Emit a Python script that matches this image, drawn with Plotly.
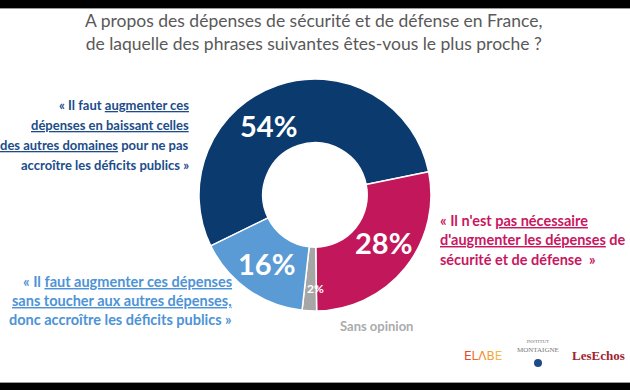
import math
import plotly.graph_objects as go

# ---- data ----
categories = [
    "Augmenter en baissant les autres dépenses",
    "Pas nécessaire d'augmenter",
    "Sans opinion",
    "Augmenter en creusant les déficits",
]
values = [54, 28, 2, 16]
value_labels = ["54%", "28%", "2%", "16%"]
colors = ["#0B3A6F", "#C2185B", "#A6A6A6", "#5B9BD5"]

title_lines = [
    "A propos des dépenses de sécurité et de défense en France,",
    "de laquelle des phrases suivantes êtes-vous le plus proche ?",
]
dark_lines = [
    "« Il faut <u>augmenter ces</u>",
    "<u>dépenses en baissant celles</u>",
    "<u>des autres domaines</u> pour ne pas",
    "accroître les déficits publics »",
]
red_lines = [
    "« Il n'est <u>pas nécessaire</u>",
    "<u>d'augmenter les dépenses</u> de",
    "sécurité et de défense  »",
]
light_lines = [
    "« Il <u>faut augmenter ces dépenses</u>",
    "<u>sans toucher aux autres dépenses,</u>",
    "donc accroître les déficits publics »",
]

W, H = 630, 390


def px(x):
    return x / W


def py(y):
    return 1 - y / H


cx, cy, r = 315, 195, 116
hole = 0.45
rotation = -116

fig = go.Figure()
fig.add_trace(go.Pie(
    labels=categories,
    values=values,
    textinfo="none",
    marker=dict(colors=colors, line=dict(color="white", width=1.5)),
    hole=hole,
    sort=False,
    direction="clockwise",
    rotation=rotation,
    showlegend=False,
    hoverinfo="label+percent",
    domain=dict(x=[px(cx - r), px(cx + r)], y=[py(cy + r), py(cy - r)]),
))

ann = []

# percentage labels placed at each slice's angle (computed from the data)
label_angle_shift = [-15, -4, -3, 0]      # styling: nudge along the ring
label_radius = [0.72, 0.72, 0.81, 0.72]   # fraction of outer radius
label_size = [29, 29, 12, 29]
total = sum(values)
start = rotation
for v, t, sh, rf, fs in zip(values, value_labels, label_angle_shift, label_radius, label_size):
    mid = start + 360 * v / total / 2 + sh
    start += 360 * v / total
    a = math.radians(mid)
    lx = cx + rf * r * math.sin(a)
    ly = cy - rf * r * math.cos(a)
    ann.append(dict(
        x=px(lx), y=py(ly), xref="paper", yref="paper", text=f"<b>{t}</b>",
        showarrow=False, xanchor="center", yanchor="middle",
        font=dict(family="Lato", size=fs, color="white"),
    ))

ann.append(dict(
    x=px(313), y=py(32), xref="paper", yref="paper",
    text="<br>".join(title_lines), showarrow=False,
    font=dict(family="Lato", size=17.5, color="#595959"), align="center",
    xanchor="center", yanchor="middle",
))


def add_block(lines, x, y0, step, anchor, color, size):
    for i, line in enumerate(lines):
        ann.append(dict(
            x=px(x), y=py(y0 + i * step), xref="paper", yref="paper",
            text=f"<b>{line}</b>", showarrow=False, xanchor=anchor,
            yanchor="middle", font=dict(family="Lato", size=size, color=color),
        ))


add_block(dark_lines, 191, 105, 20, "right", "#1C4C8A", 13)
add_block(red_lines, 438, 220, 19.5, "left", "#C8175F", 14.5)
add_block(light_lines, 234, 281, 19, "right", "#4D93D6", 14.5)

ann.append(dict(
    x=px(376), y=py(326), xref="paper", yref="paper", text="<b>Sans opinion</b>",
    showarrow=False, xanchor="center", yanchor="middle",
    font=dict(family="Lato", size=13, color="#ABABAB"),
))

# logos (as text)
ann.append(dict(
    x=px(483), y=py(356), xref="paper", yref="paper",
    text="<span style='color:#E8452C'>E</span><span style='color:#EE6A2A'>L</span>"
         "<span style='color:#F08A2E'>Λ</span><span style='color:#F3A03A'>B</span>"
         "<span style='color:#F5B847'>E</span>",
    showarrow=False, xanchor="center", yanchor="middle",
    font=dict(family="DejaVu Sans", size=12),
))
ann.append(dict(
    x=px(538), y=py(346), xref="paper", yref="paper",
    text="<span style='font-size:5px'>INSTITUT</span><br>MONTAIGNE",
    showarrow=False, xanchor="center", yanchor="middle",
    font=dict(family="Liberation Serif", size=7, color="#777777"),
))
ann.append(dict(
    x=px(598), y=py(355), xref="paper", yref="paper", text="<b>LesEchos</b>",
    showarrow=False, xanchor="center", yanchor="middle",
    font=dict(family="Liberation Serif", size=13, color="#A3232F"),
))

shapes = [
    dict(type="rect", xref="paper", yref="paper", x0=0, x1=1, y0=py(8), y1=1,
         fillcolor="black", line=dict(width=0)),
    dict(type="rect", xref="paper", yref="paper", x0=0, x1=1, y0=py(9), y1=py(8),
         fillcolor="#9a9a9a", line=dict(width=0)),
    dict(type="rect", xref="paper", yref="paper", x0=0, x1=1, y0=0, y1=py(383),
         fillcolor="black", line=dict(width=0)),
    dict(type="rect", xref="paper", yref="paper", x0=0, x1=1, y0=py(383), y1=py(382),
         fillcolor="#9a9a9a", line=dict(width=0)),
    dict(type="circle", xref="paper", yref="paper", x0=px(534), x1=px(542),
         y0=py(367), y1=py(359), fillcolor="#1F4A8A", line=dict(width=0)),
]

fig.update_layout(
    width=W, height=H, margin=dict(l=0, r=0, t=0, b=0),
    paper_bgcolor="white", plot_bgcolor="white",
    annotations=ann, shapes=shapes,
    font=dict(family="Lato"),
)

fig.write_html("out.html", config={"displayModeBar": False},
               post_script="document.body.style.margin='0';")
